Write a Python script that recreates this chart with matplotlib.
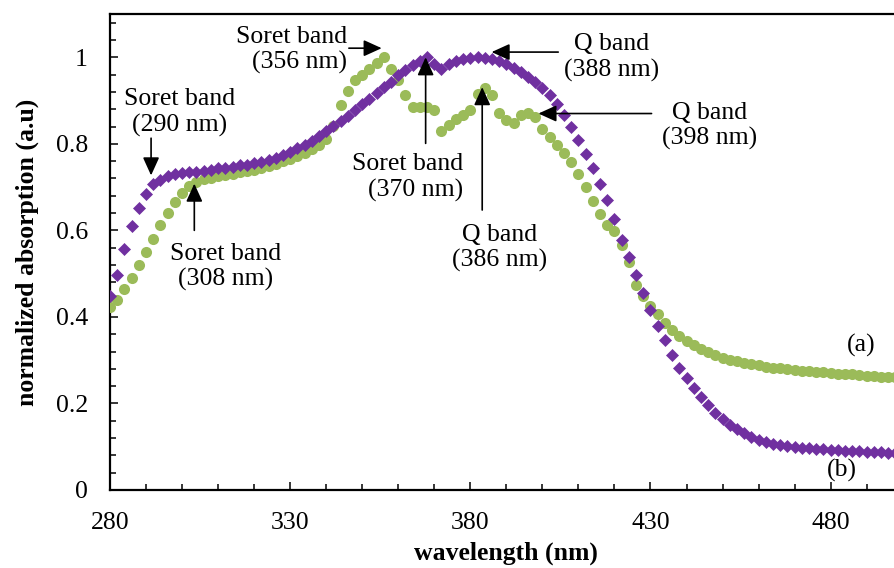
import matplotlib
matplotlib.use("Agg")
import matplotlib.pyplot as plt
from matplotlib.ticker import MultipleLocator, FixedLocator, FuncFormatter

plt.rcParams["font.family"] = ["Liberation Serif", "DejaVu Serif"]

# Wavelength grid (nm), 2 nm sampling
wavelength = list(range(280, 502, 2))

# (a) normalized absorption, green circles
series_a = [
    0.423, 0.438, 0.465, 0.490, 0.520, 0.549, 0.580, 0.613, 0.641, 0.666,
    0.687, 0.703, 0.712, 0.718, 0.722, 0.725, 0.728, 0.731, 0.734, 0.737,
    0.740, 0.744, 0.748, 0.754, 0.760, 0.766, 0.772, 0.778, 0.788, 0.797,
    0.810, 0.842, 0.889, 0.922, 0.947, 0.959, 0.974, 0.986, 1.001, 0.972,
    0.947, 0.912, 0.884, 0.884, 0.884, 0.878, 0.830, 0.843, 0.857, 0.866,
    0.879, 0.914, 0.929, 0.912, 0.871, 0.855, 0.847, 0.866, 0.872, 0.861,
    0.835, 0.816, 0.797, 0.779, 0.759, 0.731, 0.700, 0.667, 0.637, 0.612,
    0.598, 0.566, 0.527, 0.473, 0.448, 0.426, 0.406, 0.386, 0.370, 0.357,
    0.345, 0.335, 0.326, 0.318, 0.312, 0.306, 0.301, 0.297, 0.294, 0.291,
    0.288, 0.285, 0.283, 0.281, 0.279, 0.278, 0.276, 0.275, 0.273, 0.272,
    0.270, 0.269, 0.268, 0.267, 0.266, 0.264, 0.263, 0.262, 0.261, 0.260,
    0.259,
]

# (b) normalized absorption, purple diamonds
series_b = [
    0.449, 0.497, 0.556, 0.610, 0.651, 0.685, 0.706, 0.717, 0.726, 0.730,
    0.732, 0.734, 0.736, 0.738, 0.740, 0.743, 0.745, 0.747, 0.750, 0.752,
    0.755, 0.758, 0.762, 0.768, 0.775, 0.782, 0.790, 0.798, 0.807, 0.818,
    0.830, 0.841, 0.853, 0.865, 0.878, 0.891, 0.904, 0.918, 0.931, 0.944,
    0.958, 0.971, 0.982, 0.992, 1.000, 0.984, 0.972, 0.985, 0.992, 0.996,
    0.999, 1.000, 0.999, 0.996, 0.991, 0.984, 0.976, 0.966, 0.955, 0.943,
    0.929, 0.912, 0.891, 0.866, 0.840, 0.808, 0.777, 0.743, 0.708, 0.670,
    0.627, 0.578, 0.539, 0.497, 0.456, 0.415, 0.379, 0.346, 0.312, 0.282,
    0.258, 0.236, 0.216, 0.197, 0.179, 0.164, 0.150, 0.140, 0.131, 0.123,
    0.116, 0.111, 0.107, 0.104, 0.101, 0.099, 0.097, 0.096, 0.095, 0.094,
    0.093, 0.092, 0.091, 0.090, 0.089, 0.088, 0.087, 0.087, 0.086, 0.085,
    0.085,
]

x_ticks = [280, 330, 380, 430, 480]
y_ticks = [0, 0.2, 0.4, 0.6, 0.8, 1.0]

# Band annotations: label, text anchor, alignment, arrow tail, arrow tip
annotations = [
    ("Soret band\n(290 nm)", (299.4, 0.873), "center", (291.4, 0.813), (291.4, 0.727)),
    ("Soret band\n(308 nm)", (312.2, 0.515), "center", (303.4, 0.600), (303.4, 0.708)),
    ("Soret band\n(356 nm)", (345.8, 1.017), "right", (346.3, 1.021), (355.4, 1.021)),
    ("Soret band\n(370 nm)", (378.0, 0.722), "right", (367.6, 0.801), (367.6, 1.000)),
    ("Q band\n(386 nm)", (388.2, 0.559), "center", (383.3, 0.647), (383.3, 0.931)),
    ("Q band\n(388 nm)", (419.3, 1.000), "center", (404.4, 1.012), (385.9, 1.012)),
    ("Q band\n(398 nm)", (446.5, 0.841), "center", (430.3, 0.870), (398.9, 0.870)),
]
series_labels = [("(a)", (488.4, 0.333)), ("(b)", (483.2, 0.046))]

GREEN = "#9BBB59"
PURPLE = "#7030A0"
FS = 18.5

fig = plt.figure(figsize=(8.94, 5.68), dpi=100)
ax = fig.add_axes([110 / 894, 78 / 568, 792.7 / 894, 476 / 568])

ax.plot(wavelength, series_a, linestyle="none", marker="o", ms=8.0,
        mfc=GREEN, mec=GREEN, mew=0, zorder=3)
ax.plot(wavelength, series_b, linestyle="none", marker="D", ms=6.3,
        mfc=PURPLE, mec=PURPLE, mew=0.5, zorder=4)

ax.set_xlim(280, 500)
ax.set_ylim(0, 1.1)

ax.xaxis.set_major_locator(FixedLocator(x_ticks))
ax.xaxis.set_minor_locator(MultipleLocator(10))
ax.yaxis.set_major_locator(FixedLocator(y_ticks))
ax.yaxis.set_minor_locator(MultipleLocator(0.04))
ax.yaxis.set_major_formatter(FuncFormatter(lambda v, p: f"{v:g}"))

ax.tick_params(which="both", direction="in", width=1.1, colors="black",
               labelsize=FS, top=False, right=False)
ax.tick_params(which="major", length=6)
ax.tick_params(which="minor", length=4)
ax.tick_params(axis="x", pad=16)
ax.tick_params(axis="y", pad=16)

for side in ("left", "bottom", "top"):
    ax.spines[side].set_linewidth(1.6)
    ax.spines[side].set_color("black")
ax.spines["right"].set_visible(False)

ax.set_xlabel("wavelength (nm)", fontsize=FS, fontweight="bold", labelpad=5)
ax.set_ylabel("normalized absorption (a.u)", fontsize=FS, fontweight="bold",
              labelpad=12)

for label, pos, align, tail, tip in annotations:
    ax.text(pos[0], pos[1], label, fontsize=FS, ha=align, va="center",
            multialignment=align, linespacing=1.2, zorder=6)
    ax.annotate("", xy=tip, xytext=tail,
                arrowprops=dict(arrowstyle="-|>,head_length=0.55,head_width=0.25",
                                mutation_scale=20, lw=1.2, color="black",
                                shrinkA=0, shrinkB=0),
                zorder=6)

for label, pos in series_labels:
    ax.text(pos[0], pos[1], label, fontsize=FS, ha="center", va="center", zorder=6)

fig.savefig("out.png", dpi=100)
